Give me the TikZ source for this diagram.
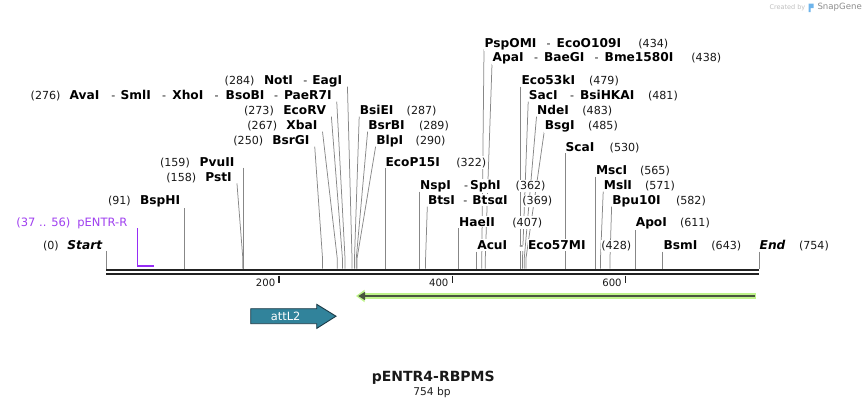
\documentclass[tikz,border=0pt]{standalone}
\usepackage{fontspec}
\setmainfont{DejaVu Sans}
\usetikzlibrary{backgrounds}
\definecolor{cutgray}{RGB}{135,135,135}
\definecolor{primcol}{RGB}{150,45,245}
\definecolor{primtxt}{RGB}{160,64,240}
\definecolor{featg}{RGB}{190,243,138}
\definecolor{featd}{RGB}{72,84,62}
\definecolor{attfill}{RGB}{49,131,155}
\definecolor{attdraw}{RGB}{28,58,70}
\definecolor{bbcol}{RGB}{34,34,34}
\definecolor{logoblue}{RGB}{110,180,235}
\tikzset{
  nm/.style={anchor=base west, inner xsep=0.5pt, inner ysep=1.2pt, fill=white, text=black, font=\fontsize{12.2}{14}\selectfont\bfseries},
  bi/.style={nm, font=\fontsize{12.2}{14}\selectfont\bfseries\itshape},
  num/.style={anchor=base west, inner xsep=0.5pt, inner ysep=1.2pt, fill=white, text=black!90, font=\fontsize{11.1}{13}\selectfont},
  hy/.style={num},
  pnum/.style={num, text=primtxt, font=\fontsize{11.5}{14}\selectfont},
  cut/.style={draw=cutgray, line width=0.75pt},
  ticklab/.style={anchor=base east, inner sep=0pt, font=\fontsize{10.1}{12}\selectfont, text=black!90},
}
\begin{document}
\begin{tikzpicture}[x=1pt,y=-1pt]
\useasboundingbox (0,0) rectangle (866,408);
% site coordinates on the backbone
\coordinate (bend) at (0,258);
\coordinate (s0) at (106,268.6);
\coordinate (s91) at (184.8,268.6);
\coordinate (s158) at (242.8,268.6);
\coordinate (s159) at (243.7,268.6);
\coordinate (s250) at (322.5,268.6);
\coordinate (s267) at (337.2,268.6);
\coordinate (s273) at (342.4,268.6);
\coordinate (s276) at (345.0,268.6);
\coordinate (s284) at (352.0,268.6);
\coordinate (s287) at (354.5,268.6);
\coordinate (s289) at (356.3,268.6);
\coordinate (s290) at (357.1,268.6);
\coordinate (s322) at (384.9,268.6);
\coordinate (s362) at (419.5,268.6);
\coordinate (s369) at (425.6,268.6);
\coordinate (s407) at (458.5,268.6);
\coordinate (s428) at (476.6,268.6);
\coordinate (s434) at (481.8,268.6);
\coordinate (s438) at (485.3,268.6);
\coordinate (s479) at (520.8,268.6);
\coordinate (s481) at (522.5,268.6);
\coordinate (s483) at (524.3,268.6);
\coordinate (s485) at (526.0,268.6);
\coordinate (s530) at (565.0,268.6);
\coordinate (s565) at (595.3,268.6);
\coordinate (s571) at (600.5,268.6);
\coordinate (s582) at (610.0,268.6);
\coordinate (s611) at (635.1,268.6);
\coordinate (s643) at (662.8,268.6);
\coordinate (s754) at (759.0,268.6);

% ---- labels ----
\node[nm] (PspOMI) at (484,47) {PspOMI};
\node[hy] (h1) at (546,47) {-};
\node[nm] (EcoO109I) at (556,47) {EcoO109I};
\node[num] (n434) at (637.7,47) {(434)};

\node[nm] (ApaI) at (492,61.6) {ApaI};
\node[hy] (h2) at (533.3,61.6) {-};
\node[nm] (BaeGI) at (543.3,61.6) {BaeGI};
\node[hy] (h3) at (594,61.6) {-};
\node[nm] (Bme1580I) at (604,61.6) {Bme1580I};
\node[num] (n438) at (690.7,61.6) {(438)};

\node[num] (n284) at (224,84.3) {(284)};
\node[nm] (NotI) at (263.3,84.3) {NotI};
\node[hy] (h4) at (302.7,84.3) {-};
\node[nm] (EagI) at (311.7,84.3) {EagI};
\node[nm] (Eco53kI) at (520.8,84.3) {Eco53kI};
\node[num] (n479) at (588.3,84.3) {(479)};

\node[num] (n276) at (30,99.3) {(276)};
\node[nm] (AvaI) at (69,99.3) {AvaI};
\node[hy] (h5) at (110.7,99.3) {-};
\node[nm] (SmlI) at (120,99.3) {SmlI};
\node[hy] (h6) at (161.5,99.3) {-};
\node[nm] (XhoI) at (171.7,99.3) {XhoI};
\node[hy] (h7) at (214,99.3) {-};
\node[nm] (BsoBI) at (225,99.3) {BsoBI};
\node[hy] (h8) at (273.3,99.3) {-};
\node[nm] (PaeR7I) at (283.3,99.3) {PaeR7I};
\node[nm] (SacI) at (528.2,99.3) {SacI};
\node[hy] (h9) at (569.3,99.3) {-};
\node[nm] (BsiHKAI) at (579.3,99.3) {BsiHKAI};
\node[num] (n481) at (647.3,99.3) {(481)};

\node[num] (n273) at (243.3,114.3) {(273)};
\node[nm] (EcoRV) at (282.7,114.3) {EcoRV};
\node[nm] (BsiEI) at (359.2,114.3) {BsiEI};
\node[num] (n287) at (406,114.3) {(287)};
\node[nm] (NdeI) at (536.5,114.3) {NdeI};
\node[num] (n483) at (581.7,114.3) {(483)};

\node[num] (n267) at (246.7,129.3) {(267)};
\node[nm] (XbaI) at (285.7,129.3) {XbaI};
\node[nm] (BsrBI) at (367.6,129.3) {BsrBI};
\node[num] (n289) at (418.3,129.3) {(289)};
\node[nm] (BsgI) at (544.2,129.3) {BsgI};
\node[num] (n485) at (587.3,129.3) {(485)};

\node[num] (n250) at (232.7,144.3) {(250)};
\node[nm] (BsrGI) at (271.7,144.3) {BsrGI};
\node[nm] (BlpI) at (375.6,144.3) {BlpI};
\node[num] (n290) at (415,144.3) {(290)};

\node[nm] (ScaI) at (565,151) {ScaI};
\node[num] (n530) at (609,151) {(530)};

\node[num] (n159) at (159.3,166) {(159)};
\node[nm] (PvuII) at (199,166) {PvuII};
\node[nm] (EcoP15I) at (384.9,166) {EcoP15I};
\node[num] (n322) at (455.7,166) {(322)};

\node[nm] (MscI) at (595.3,174.3) {MscI};
\node[num] (n565) at (639.3,174.3) {(565)};

\node[num] (n158) at (165.7,181) {(158)};
\node[nm] (PstI) at (204.7,181) {PstI};

\node[nm] (NspI) at (419.5,189.3) {NspI};
\node[hy] (h10) at (463.3,189.3) {-};
\node[nm] (SphI) at (469.3,189.3) {SphI};
\node[num] (n362) at (515,189.3) {(362)};
\node[nm] (MslI) at (603.2,189.3) {MslI};
\node[num] (n571) at (644.3,189.3) {(571)};

\node[num] (n91) at (107.3,204.3) {(91)};
\node[nm] (BspHI) at (139.3,204.3) {BspHI};
\node[nm] (BtsI) at (427.3,204.3) {BtsI};
\node[hy] (h11) at (462.7,204.3) {-};
\node[nm] (BtsaI) at (471.7,204.3) {BtsαI};
\node[num] (n369) at (521.7,204.3) {(369)};
\node[nm] (Bpu10I) at (611.6,204.3) {Bpu10I};
\node[num] (n582) at (675.3,204.3) {(582)};

\node[pnum] (n3756) at (15.7,226) {(37 .. 56)};
\node[pnum] (pENTRR) at (76.7,226) {pENTR-R};
\node[nm] (HaeII) at (458.5,226) {HaeII};
\node[num] (n407) at (511.7,226) {(407)};
\node[nm] (ApoI) at (635.1,226) {ApoI};
\node[num] (n611) at (679.3,226) {(611)};

\node[num] (n0) at (42.3,249.3) {(0)};
\node[bi] (Start) at (66.7,249.3) {Start};
\node[nm] (AcuI) at (476.6,249.3) {AcuI};
\node[hy] (h12) at (518.7,249.3) {-};
\node[nm] (Eco57MI) at (527.3,249.3) {Eco57MI};
\node[num] (n428) at (600.7,249.3) {(428)};
\node[nm] (BsmI) at (662.8,249.3) {BsmI};
\node[num] (n643) at (710.7,249.3) {(643)};
\node[bi] (End) at (759,249.3) {End};
\node[num] (n754) at (798.3,249.3) {(754)};

% ---- cut-site connectors (behind the labels) ----
\begin{pgfonlayer}{background}
  \foreach \lab/\site in {EagI/s284, PaeR7I/s276, EcoRV/s273, XbaI/s267, BsrGI/s250, PstI/s158}
    \draw[cut] ([shift={(4.5,2.4)}]\lab.base east) -- (\site |- bend) -- (\site);
  \foreach \lab/\site in {PvuII/s159, BspHI/s91, Start/s0}
    \draw[cut] (\site |- \lab.south) -- (\site);
  \foreach \lab/\site in {BsiEI/s287, BsrBI/s289, BlpI/s290, EcoP15I/s322, NspI/s362,
      BtsI/s369, HaeII/s407, AcuI/s428, PspOMI/s434, ApaI/s438, Eco53kI/s479,
      SacI/s481, NdeI/s483, BsgI/s485, ScaI/s530, MscI/s565, MslI/s571,
      Bpu10I/s582, ApoI/s611, BsmI/s643, End/s754}
    \draw[cut] ([shift={(0,2.4)}]\lab.base west) -- (\site |- bend) -- (\site);
\end{pgfonlayer}

% ---- primer pENTR-R ----
\coordinate (pr1) at (137.5,228);
\coordinate (pr2) at (137.5,266);
\coordinate (pr3) at (154,266);
\draw[primcol, line width=1pt] (pr1) -- (pr2);
\draw[primcol, line width=1.8pt] ([xshift=-0.5pt]pr2) -- (pr3);

% ---- backbone ----
\coordinate (bbL) at (106,270);
\coordinate (bbR) at (759,270);
\draw[bbcol, line width=2.6pt] (bbL) -- (bbR);
\draw[bbcol, line width=2.4pt] ([yshift=-4.2pt]bbL) -- ([yshift=-4.2pt]bbR);

% ---- ticks ----
\foreach \x/\t in {279.2/200, 452.4/400, 625.6/600}{
  \draw[bbcol, line width=1.7pt] (\x,275.5) -- (\x,282.5);
  \node[ticklab] at (\x-3.8,286.4) {\t};
}

% ---- green feature arrow ----
\fill[featg] (356,296) -- (364.5,289.8) -- (364.5,302.2) -- cycle;
\fill[featg] (363,293.1) rectangle (755.8,298.9);
\draw[featd, line width=2pt] (362,296) -- (754.5,296);
\fill[featd] (358.3,296) -- (365,291.8) -- (365,300.2) -- cycle;

% ---- attL2 feature ----
\draw[fill=attfill, draw=attdraw, line width=0.9pt, line join=miter]
  (250.7,308.7) -- (316.7,308.7) -- (316.7,304.3) -- (336,316.2)
  -- (316.7,328.4) -- (316.7,323.7) -- (250.7,323.7) -- cycle;
\node[inner sep=0pt, text=white, font=\fontsize{11.4}{13}\selectfont] (attL2) at (285.6,316) {attL2};

% ---- title ----
\node[inner sep=0pt, font=\fontsize{14}{16}\selectfont\bfseries, text=black!90] (title) at (433.3,377.3) {pENTR4-RBPMS};
\node[inner sep=0pt, font=\fontsize{10.7}{13}\selectfont, text=black!88] (bp) at (432,392.5) {754 bp};

% ---- watermark ----
\node[anchor=west, inner sep=0pt, font=\fontsize{6.5}{8}\selectfont, text=black!25] (wm1) at (769.3,7.5) {Created by};
\fill[logoblue] (808.5,3.5) -- (813.5,3.5) -- (813.5,8) -- (810.5,8) -- (810.5,12) -- (808.5,12) -- cycle;
\node[anchor=west, inner sep=0pt, font=\fontsize{8.6}{10}\selectfont, text=black!45] (wm2) at (817.3,7.5) {SnapGene};
\end{tikzpicture}
\end{document}
